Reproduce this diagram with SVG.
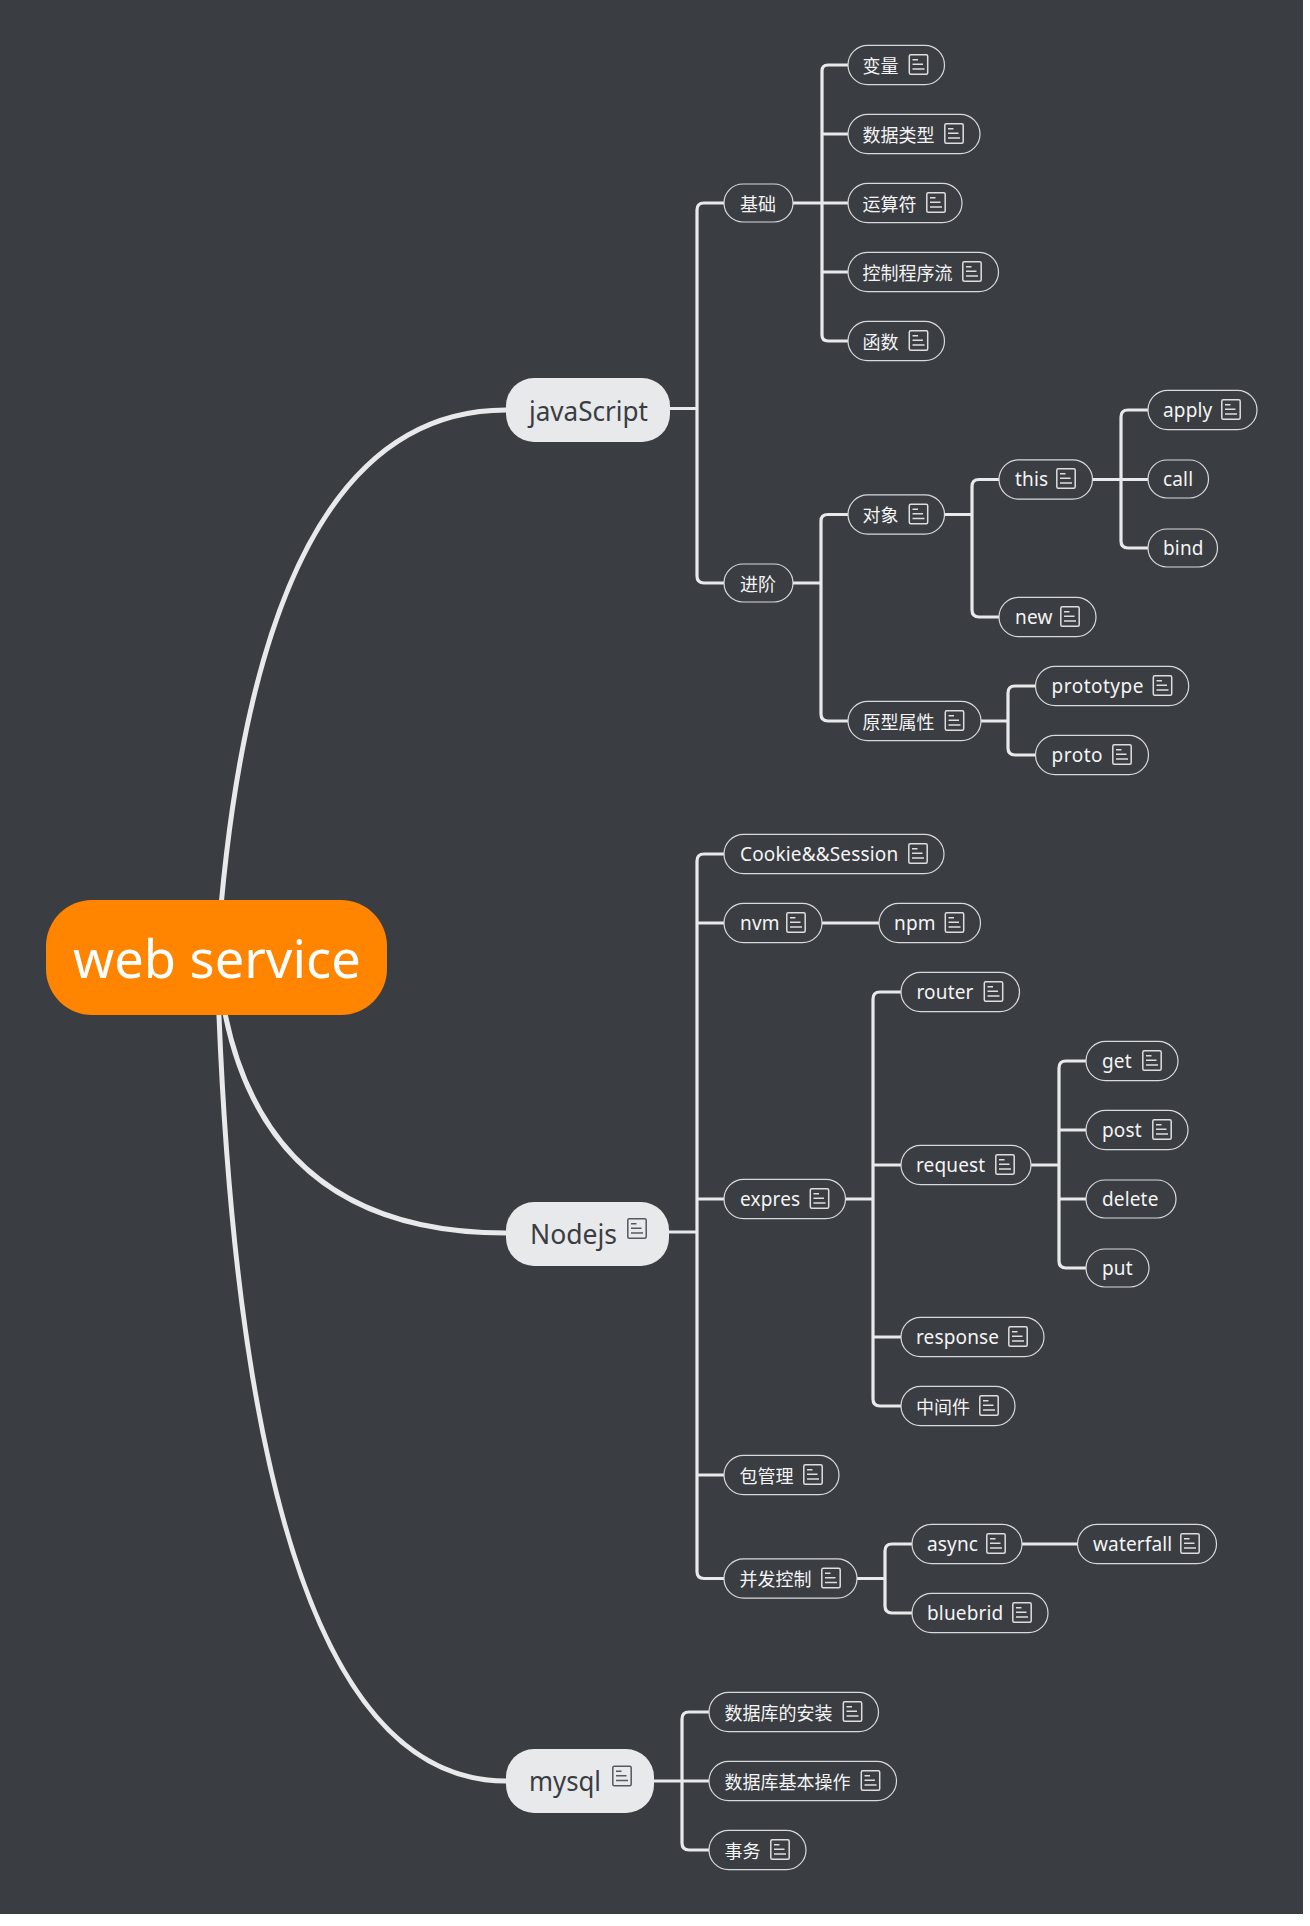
<svg xmlns="http://www.w3.org/2000/svg" width="1310" height="1926" viewBox="0 0 1310 1926">
<style>
text{font-family:"Noto Sans","Noto Sans CJK SC",sans-serif}
.n rect.b{fill:#3a3d42;stroke:#d8d9db;stroke-width:1.2}
.n text{font-size:19px;fill:#f4f4f4;letter-spacing:.15px}
.n text.w{letter-spacing:.5px}
.n text.z{font-size:18px;letter-spacing:0;font-family:"Noto Sans CJK SC",sans-serif}
.m rect.b{fill:#e8e9eb}
.m text{font-size:28px;fill:#3a3d42}
.c{fill:none;stroke:#e8e9eb;stroke-width:3.2}
.t{fill:none;stroke:#e8e9eb;stroke-width:5}
.ic{fill:none;stroke:#dedede;stroke-width:1.5}
.md .ic{stroke:#55585c}
</style>
<defs>
<g id="note"><rect x="0.8" y="0.8" width="18.4" height="19.4" rx="1.5"/><path d="M4 5.7h5.500M4 10.300h10.500M4 15h12"/></g>
</defs>
<rect width="1303" height="1914" fill="#3a3d42"/>
<g id="connectors">
<path class="t" d="M217 957Q254 410 506 410"/>
<path class="t" d="M217 957Q241 1233 506 1233"/>
<path class="t" d="M217 957Q240 1781 506 1781"/>
<path class="c" d="M670 408.500H697M724 203H704Q697 203 697 210V576Q697 583 704 583H724"/>
<path class="c" d="M793 203H822M848 65H828Q822 65 822 71V335Q822 341 828 341H848M822 134H848M822 203H848M822 272H848"/>
<path class="c" d="M793 583H821M848 514.500H828Q821 514.500 821 521V714Q821 721 828 721H848"/>
<path class="c" d="M944.500 514.500H972M999 479.500H979Q972 479.500 972 486.500V610Q972 617 979 617H999"/>
<path class="c" d="M1092.500 479.500H1148M1148 410H1128Q1121 410 1121 417V541Q1121 548 1128 548H1148"/>
<path class="c" d="M981 721H1008M1036 686H1015Q1008 686 1008 693V748Q1008 755 1015 755H1036"/>
<path class="c" d="M669 1232H697M724 854H704Q697 854 697 861V1571.500Q697 1578.500 704 1578.500H724M697 923H724M697 1199H724M697 1475H724"/>
<path class="c" d="M822 923H879"/>
<path class="c" d="M846 1199H873M901 992H880Q873 992 873 999V1399Q873 1406 880 1406H901M873 1165H901M873 1337H901"/>
<path class="c" d="M1031 1165H1059M1086 1061H1066Q1059 1061 1059 1068V1261Q1059 1268 1066 1268H1086M1059 1130H1086M1059 1199H1086"/>
<path class="c" d="M857 1578.500H885M912 1544H892Q885 1544 885 1551V1606Q885 1613 892 1613H912"/>
<path class="c" d="M1022 1544H1077.500"/>
<path class="c" d="M654 1781H682M709 1712H689Q682 1712 682 1719V1843Q682 1850 689 1850H709M682 1781H709"/>
</g>
<g id="root"><rect x="46" y="900" width="341" height="115" rx="46" fill="#ff8400"/><text x="73" y="978" font-size="52.400" fill="#fff">web service</text></g>
<g id="javaScript" class="m"><rect class="b" x="506" y="378" width="164" height="64" rx="28"/><text x="529" y="420.500" textLength="119" lengthAdjust="spacingAndGlyphs">javaScript</text></g>
<g id="Nodejs" class="m md"><rect class="b" x="506" y="1202" width="163" height="64" rx="28"/><text x="530" y="1244" textLength="87" lengthAdjust="spacingAndGlyphs">Nodejs</text><use href="#note" class="ic" x="627" y="1218"/></g>
<g id="mysql" class="m md"><rect class="b" x="506" y="1749" width="148" height="64" rx="28"/><text x="529" y="1791" textLength="72" lengthAdjust="spacingAndGlyphs">mysql</text><use href="#note" class="ic" x="612" y="1765.500"/></g>
<g id="n1" class="n"><rect class="b" x="724" y="184" width="69" height="38" rx="19"/><text class="z" x="740" y="210.500">基础</text></g>
<g id="n2" class="n"><rect class="b" x="848" y="45.300" width="96.500" height="39.400" rx="19.700"/><text class="z" x="862.500" y="72.500">变量</text><use href="#note" class="ic" x="908.500" y="54"/></g>
<g id="n3" class="n"><rect class="b" x="848" y="114.300" width="132" height="39.400" rx="19.700"/><text class="z" x="862.500" y="141.500">数据类型</text><use href="#note" class="ic" x="944" y="123"/></g>
<g id="n4" class="n"><rect class="b" x="848" y="183.300" width="114" height="39.400" rx="19.700"/><text class="z" x="862.500" y="210.500">运算符</text><use href="#note" class="ic" x="926" y="192"/></g>
<g id="n5" class="n"><rect class="b" x="848" y="252.300" width="150.500" height="39.400" rx="19.700"/><text class="z" x="862.500" y="279.500">控制程序流</text><use href="#note" class="ic" x="962" y="261"/></g>
<g id="n6" class="n"><rect class="b" x="848" y="321.300" width="96.500" height="39.400" rx="19.700"/><text class="z" x="862.500" y="348.500">函数</text><use href="#note" class="ic" x="908.500" y="330"/></g>
<g id="n7" class="n"><rect class="b" x="724" y="564" width="69" height="38" rx="19"/><text class="z" x="740" y="590.500">进阶</text></g>
<g id="n8" class="n"><rect class="b" x="848" y="494.800" width="96.500" height="39.400" rx="19.700"/><text class="z" x="862.500" y="522">对象</text><use href="#note" class="ic" x="908.500" y="503.500"/></g>
<g id="n9" class="n"><rect class="b" x="999" y="459.800" width="93.500" height="39.400" rx="19.700"/><text x="1015" y="486">this</text><use href="#note" class="ic" x="1056" y="468"/></g>
<g id="n10" class="n"><rect class="b" x="1148" y="390.300" width="109" height="39.400" rx="19.700"/><text x="1163" y="416.500">apply</text><use href="#note" class="ic" x="1221" y="399"/></g>
<g id="n11" class="n"><rect class="b" x="1148" y="460" width="60.500" height="38" rx="19"/><text x="1163" y="485.500">call</text></g>
<g id="n12" class="n"><rect class="b" x="1148" y="529" width="69.500" height="38" rx="19"/><text x="1163" y="554.500">bind</text></g>
<g id="n13" class="n"><rect class="b" x="999" y="597.300" width="97" height="39.400" rx="19.700"/><text x="1015" y="623.500">new</text><use href="#note" class="ic" x="1060" y="606"/></g>
<g id="n14" class="n"><rect class="b" x="848" y="701.300" width="133" height="39.400" rx="19.700"/><text class="z" x="862.500" y="728.500">原型属性</text><use href="#note" class="ic" x="944.500" y="710"/></g>
<g id="n15" class="n"><rect class="b" x="1035.500" y="666.300" width="153.200" height="39.400" rx="19.700"/><text class="w" x="1051.500" y="692.500">prototype</text><use href="#note" class="ic" x="1152.500" y="675"/></g>
<g id="n16" class="n"><rect class="b" x="1035.500" y="735.300" width="113" height="39.400" rx="19.700"/><text class="w" x="1051.500" y="761.500">proto</text><use href="#note" class="ic" x="1112" y="744"/></g>
<g id="n17" class="n"><rect class="b" x="724" y="834.300" width="220" height="39.400" rx="19.700"/><text x="740" y="860.500">Cookie&amp;&amp;Session</text><use href="#note" class="ic" x="908" y="843"/></g>
<g id="n18" class="n"><rect class="b" x="724" y="903.300" width="98" height="39.400" rx="19.700"/><text x="740" y="929.500">nvm</text><use href="#note" class="ic" x="786" y="912"/></g>
<g id="n19" class="n"><rect class="b" x="879" y="903.300" width="101.500" height="39.400" rx="19.700"/><text x="894" y="929.500">npm</text><use href="#note" class="ic" x="944.500" y="912"/></g>
<g id="n20" class="n"><rect class="b" x="724" y="1179.300" width="121.500" height="39.400" rx="19.700"/><text x="740" y="1205.500">expres</text><use href="#note" class="ic" x="809.500" y="1188"/></g>
<g id="n21" class="n"><rect class="b" x="901" y="972.300" width="118.500" height="39.400" rx="19.700"/><text x="916.500" y="998.500">router</text><use href="#note" class="ic" x="983.500" y="981"/></g>
<g id="n22" class="n"><rect class="b" x="901" y="1145.300" width="130" height="39.400" rx="19.700"/><text x="916" y="1171.500">request</text><use href="#note" class="ic" x="995" y="1154"/></g>
<g id="n23" class="n"><rect class="b" x="1086" y="1041.300" width="92" height="39.400" rx="19.700"/><text x="1102" y="1067.500">get</text><use href="#note" class="ic" x="1142" y="1050"/></g>
<g id="n24" class="n"><rect class="b" x="1086" y="1110.300" width="102" height="39.400" rx="19.700"/><text x="1102" y="1136.500">post</text><use href="#note" class="ic" x="1152" y="1119"/></g>
<g id="n25" class="n"><rect class="b" x="1086" y="1180" width="90" height="38" rx="19"/><text x="1102" y="1205.500">delete</text></g>
<g id="n26" class="n"><rect class="b" x="1086" y="1249" width="63" height="38" rx="19"/><text x="1102" y="1274.500">put</text></g>
<g id="n27" class="n"><rect class="b" x="901" y="1317.300" width="143" height="39.400" rx="19.700"/><text x="916" y="1343.500">response</text><use href="#note" class="ic" x="1008" y="1326"/></g>
<g id="n28" class="n"><rect class="b" x="901" y="1386.300" width="114" height="39.400" rx="19.700"/><text class="z" x="916" y="1413.500">中间件</text><use href="#note" class="ic" x="979" y="1395"/></g>
<g id="n29" class="n"><rect class="b" x="724" y="1455.300" width="115" height="39.400" rx="19.700"/><text class="z" x="739.500" y="1482.500">包管理</text><use href="#note" class="ic" x="803" y="1464"/></g>
<g id="n30" class="n"><rect class="b" x="724" y="1558.800" width="133" height="39.400" rx="19.700"/><text class="z" x="739.500" y="1586">并发控制</text><use href="#note" class="ic" x="821" y="1567.500"/></g>
<g id="n31" class="n"><rect class="b" x="912" y="1524.300" width="110" height="39.400" rx="19.700"/><text x="927" y="1550.500">async</text><use href="#note" class="ic" x="986" y="1533"/></g>
<g id="n32" class="n"><rect class="b" x="1077.500" y="1524.300" width="139" height="39.400" rx="19.700"/><text x="1093" y="1550.500">waterfall</text><use href="#note" class="ic" x="1180" y="1533"/></g>
<g id="n33" class="n"><rect class="b" x="912" y="1593.300" width="136" height="39.400" rx="19.700"/><text x="927" y="1619.500">bluebrid</text><use href="#note" class="ic" x="1012" y="1602"/></g>
<g id="n34" class="n"><rect class="b" x="709" y="1692.300" width="169.500" height="39.400" rx="19.700"/><text class="z" x="724.500" y="1719.500">数据库的安装</text><use href="#note" class="ic" x="842.500" y="1701"/></g>
<g id="n35" class="n"><rect class="b" x="709" y="1761.300" width="187.500" height="39.400" rx="19.700"/><text class="z" x="724.500" y="1788.500">数据库基本操作</text><use href="#note" class="ic" x="860.500" y="1770"/></g>
<g id="n36" class="n"><rect class="b" x="709" y="1830.300" width="97" height="39.400" rx="19.700"/><text class="z" x="724.500" y="1857.500">事务</text><use href="#note" class="ic" x="770" y="1839"/></g>
</svg>
